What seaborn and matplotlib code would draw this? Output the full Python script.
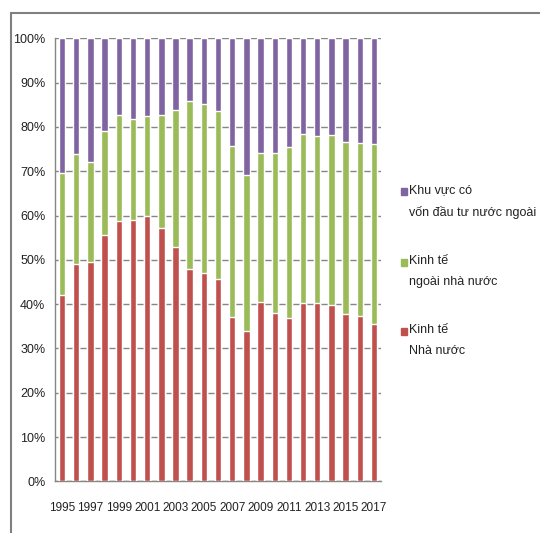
import numpy as np
import pandas as pd
import matplotlib
matplotlib.use("Agg")
import matplotlib.pyplot as plt
from matplotlib.patches import Rectangle
from matplotlib.lines import Line2D
from matplotlib.ticker import FixedLocator, PercentFormatter
import seaborn as sns

# Data (% share)
years = list(range(1995, 2018))
state = [42.1, 49.1, 49.5, 55.5, 58.7, 59.1, 60.0, 57.2, 53.0, 48.0, 47.1, 45.7,
         37.1, 33.9, 40.5, 38.1, 36.9, 40.3, 40.3, 39.8, 37.8, 37.4, 35.6]
non_state = [27.4, 24.9, 22.6, 23.6, 24.0, 22.8, 22.5, 25.5, 30.9, 37.9, 38.1, 38.0,
             38.7, 35.2, 33.7, 36.1, 38.6, 38.1, 37.6, 38.4, 38.9, 39.0, 40.6]
foreign = [100 - a - b for a, b in zip(state, non_state)]

labels = ["Khu vực có\nvốn đầu tư nước ngoài",
          "Kinh tế\nngoài nhà nước",
          "Kinh tế\nNhà nước"]
colors = ["#8064A2", "#9BBB59", "#C0504D"]

df = pd.DataFrame({"year": [str(y) for y in years],
                   "state": state, "non_state": non_state, "foreign": foreign})
df["cum2"] = df["state"] + df["non_state"]
df["cum3"] = df["cum2"] + df["foreign"]

sns.set_style("white")
plt.rcParams["font.family"] = ["Liberation Sans", "DejaVu Sans"]

fig = plt.figure(figsize=(5.4, 5.33), dpi=100)
ax = fig.add_axes([0.1019, 0.097, 0.6037, 0.831])

for col, c in zip(["cum3", "cum2", "state"], colors):
    sns.barplot(data=df, x="year", y=col, color=c, width=0.45,
                saturation=1, ax=ax, zorder=3)

ax.set_xlim(-0.5, len(years) - 0.5)
ax.set_ylim(0, 100)
ax.set_xlabel("")
ax.set_ylabel("")

ax.yaxis.set_major_locator(FixedLocator(np.arange(0, 101, 10)))
ax.yaxis.set_major_formatter(PercentFormatter(decimals=0))
ax.grid(axis="y", color="#868686", linewidth=1, zorder=0)
ax.tick_params(axis="y", length=4, color="#868686", labelsize=9, pad=3,
               labelcolor="#222222")

# every other year label, tick marks between categories
ax.set_xticks(range(0, len(years), 2))
ax.set_xticklabels([str(y) for y in years[::2]], fontsize=8.5, color="#222222")
ax.set_xticks(np.arange(-0.5, len(years), 1), minor=True)
ax.tick_params(axis="x", which="major", length=0, pad=15)
ax.tick_params(axis="x", which="minor", length=5, color="#868686", direction="out")

for s in ["top", "right"]:
    ax.spines[s].set_visible(False)
for s in ["left", "bottom"]:
    ax.spines[s].set_color("#868686")
    ax.spines[s].set_linewidth(1)

# chart frame (partly cropped)
fig.add_artist(Line2D([11 / 540, 11 / 540], [0, 1 - 13 / 533], color="#808080", lw=1.5))
fig.add_artist(Line2D([11 / 540, 1], [1 - 13 / 533, 1 - 13 / 533], color="#808080", lw=1.5))

# legend
ys = [191, 262, 331]
for lab, c, y in zip(labels, colors, ys):
    fig.add_artist(Rectangle((401 / 540, 1 - (y + 4) / 533), 6 / 540, 7 / 533,
                             color=c, transform=fig.transFigure))
    fig.text(409 / 540, 1 - (y - 7) / 533, lab, fontsize=9, va="top", ha="left",
             linespacing=2.0, color="#222222")

fig.savefig("out.png", dpi=100)
